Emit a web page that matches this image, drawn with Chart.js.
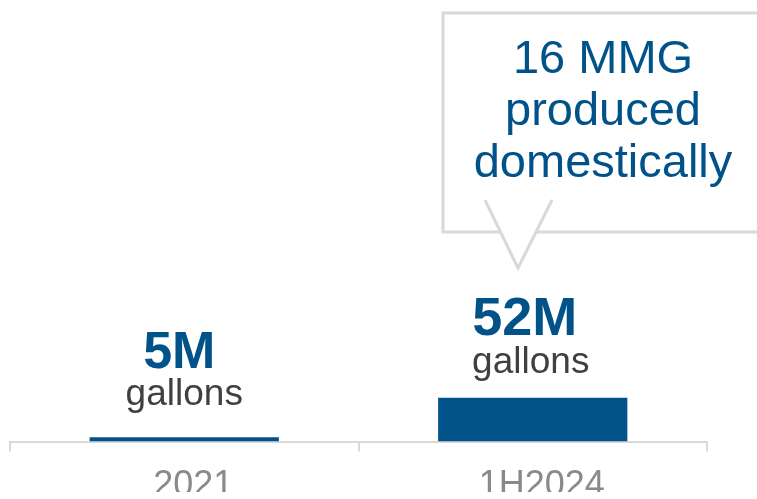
<!DOCTYPE html>
<html>
<head>
<meta charset="utf-8">
<script src="https://cdn.jsdelivr.net/npm/chart.js@4"></script>
<style>
  html, body { margin: 0; padding: 0; background: #ffffff; }
  #wrap { width: 757px; height: 499px; position: relative; }
</style>
</head>
<body>
<div id="wrap"><canvas id="c" width="757" height="499"></canvas></div>
<script>
// ---- data ----
const categories = ['2021', '1H2024'];
const volumes = [5, 52];                 // million gallons
const valueLabels = ['5M', '52M'];
const unitLabels = ['gallons', 'gallons'];
const calloutLines = ['16 MMG', 'produced', 'domestically'];

const BLUE = '#02528a';
const FONT = '"Liberation Sans", Arial, Helvetica, sans-serif';

const labelPlugin = {
  id: 'barLabels',
  afterDatasetsDraw(chart, args, opts) {
    const ctx = chart.ctx;
    const meta = chart.getDatasetMeta(0);
    ctx.save();
    ctx.textAlign = 'center';
    ctx.textBaseline = 'alphabetic';
    meta.data.forEach((bar, i) => {
      const o = opts.offsets[i];
      ctx.fillStyle = BLUE;
      ctx.font = 'bold ' + o.size + 'px ' + FONT;
      ctx.fillText(valueLabels[i], bar.x + o.dx, bar.y - o.vy);
      ctx.fillStyle = '#404040';
      ctx.font = '37px ' + FONT;
      ctx.fillText(unitLabels[i], bar.x + o.gdx, bar.y - o.gy);
    });
    ctx.restore();
  }
};

const calloutPlugin = {
  id: 'callout',
  afterDraw(chart, args, opts) {
    const ctx = chart.ctx;
    const b = opts.box;
    ctx.save();
    ctx.strokeStyle = '#d9d9d9';
    ctx.lineWidth = 3;
    ctx.lineCap = 'butt';
    ctx.beginPath();
    ctx.moveTo(b.right, b.top);
    ctx.lineTo(b.left, b.top);
    ctx.lineTo(b.left, b.bottom);
    ctx.lineTo(b.gapL, b.bottom);
    ctx.moveTo(b.gapR, b.bottom);
    ctx.lineTo(b.right, b.bottom);
    ctx.stroke();
    ctx.beginPath();
    ctx.moveTo(b.armL, b.armTop);
    ctx.lineTo(b.tipX, b.tipY);
    ctx.lineTo(b.armR, b.armTop);
    ctx.stroke();
    ctx.fillStyle = BLUE;
    ctx.font = '47px ' + FONT;
    ctx.textAlign = 'center';
    ctx.textBaseline = 'alphabetic';
    calloutLines.forEach((t, i) => {
      ctx.fillText(t, b.textX, b.textY0 + i * b.lineGap);
    });
    ctx.restore();
  }
};

new Chart(document.getElementById('c'), {
  type: 'bar',
  data: {
    labels: categories,
    datasets: [{
      data: volumes,
      backgroundColor: BLUE,
      borderWidth: 0,
      categoryPercentage: 1.0,
      barPercentage: 0.543
    }]
  },
  options: {
    responsive: false,
    animation: false,
    events: [],
    layout: { padding: { left: 10, right: 50, top: 391, bottom: 7 } },
    plugins: {
      legend: { display: false },
      tooltip: { enabled: false },
      barLabels: {
        offsets: [
          { size: 52, dx: -5, vy: 69, gdx: 0, gy: 32 },
          { size: 54, dx: -8, vy: 63, gdx: -2, gy: 25 }
        ]
      },
      callout: {
        box: {
          left: 443, top: 13, right: 775, bottom: 232,
          gapL: 500, gapR: 536,
          armL: 485, armR: 552, armTop: 200, tipX: 518, tipY: 268,
          textX: 603, textY0: 73, lineGap: 52
        }
      }
    },
    scales: {
      x: {
        offset: true,
        grid: {
          offset: true,
          drawOnChartArea: false,
          drawTicks: true,
          tickLength: 10,
          color: '#d9d9d9',
          lineWidth: 2
        },
        border: { display: true, color: '#d9d9d9', width: 2 },
        ticks: {
          color: '#8a8a8a',
          padding: 21,
          labelOffset: 9,
          font: { family: FONT, size: 36, lineHeight: 0.737 }
        }
      },
      y: {
        display: false,
        min: 0,
        max: 60
      }
    }
  },
  plugins: [labelPlugin, calloutPlugin]
});
</script>
</body>
</html>
